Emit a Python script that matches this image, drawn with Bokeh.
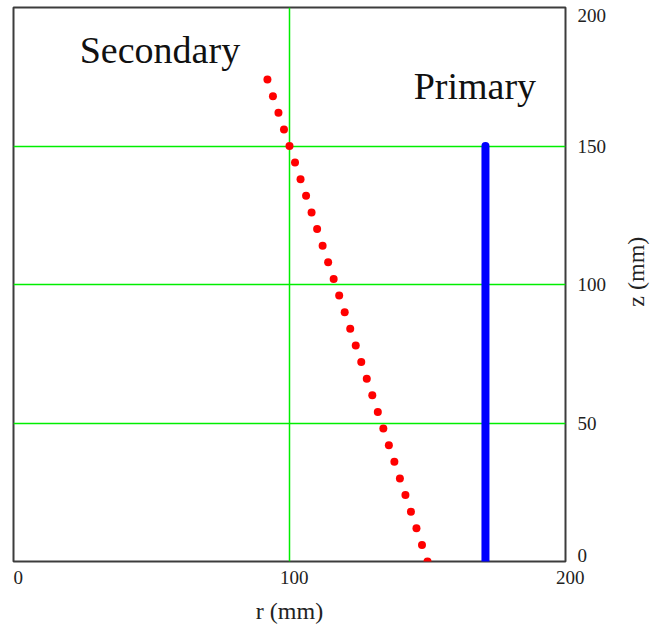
import math
from bokeh.plotting import figure
from bokeh.models import Range1d, LinearAxis, FixedTicker, Label
from bokeh.embed import file_html
from bokeh.resources import INLINE

# Secondary winding: radius (mm) against height (mm)
secondary_z = [0, 6, 12, 18, 24, 30, 36, 42, 48, 54, 60, 66, 72, 78, 84,
               90, 96, 102, 108, 114, 120, 126, 132, 138, 144, 150, 156, 162, 168, 174]
secondary_r = [150, 148, 146, 144, 142, 140, 138, 136, 134, 132, 130, 128, 126, 124, 122,
               120, 118, 116, 114, 112, 110, 108, 106, 104, 102, 100, 98, 96, 94, 92]

# Primary winding: a straight column at fixed radius
primary_r = [171, 171]
primary_z = [0, 150]

x_ticks = [0, 100, 200]
y_ticks = [0, 50, 100, 150, 200]
grid_x = [100]
grid_y = [50, 100, 150]

SERIF = "Liberation Serif"
NBSP = "\u00a0"
Z_TITLE_AT = 92  # height where the rotated z title starts

p = figure(
    frame_width=552, frame_height=554,
    x_range=Range1d(0, 200), y_range=Range1d(0, 200),
    output_backend="svg", toolbar_location=None,
    x_axis_location=None, y_axis_location=None,
    min_border_left=13, min_border_top=7,
    min_border_right=103, min_border_bottom=74,
)
p.background_fill_color = "white"
p.border_fill_color = "white"
p.outline_line_color = "#3c3c3c"
p.outline_line_width = 2

# bottom axis: labels sit a little to the right of their ticks
xaxis = LinearAxis(ticker=FixedTicker(ticks=x_ticks), axis_label="r (mm)")
xaxis.major_label_overrides = {t: NBSP * 2 + str(t) for t in x_ticks}

# right axis: end labels pulled inside the frame's span
yaxis = LinearAxis(ticker=FixedTicker(ticks=y_ticks))
yaxis.major_label_overrides = {200: "\n200", 0: "0\n\n\n"}
yaxis.major_label_text_line_height = 0.2

# second right axis that only carries the rotated z title
ztitle = LinearAxis(ticker=FixedTicker(ticks=[Z_TITLE_AT]))
ztitle.major_label_overrides = {Z_TITLE_AT: "z (mm)"}
ztitle.major_label_orientation = math.pi / 2

for ax in (xaxis, yaxis, ztitle):
    ax.axis_line_color = None
    ax.major_tick_line_color = None
    ax.minor_tick_line_color = None
    ax.major_tick_out = 0
    ax.major_tick_in = 0
    ax.major_label_text_font = SERIF
    ax.major_label_text_font_size = "19px"
    ax.major_label_text_color = "#222222"
    ax.axis_label_text_font = SERIF
    ax.axis_label_text_font_size = "24px"
    ax.axis_label_text_font_style = "normal"
    ax.axis_label_text_color = "#222222"
ztitle.major_label_text_font_size = "24px"
xaxis.major_label_standoff = 5
xaxis.axis_label_standoff = 7
yaxis.major_label_standoff = 12
ztitle.major_label_standoff = 27
p.add_layout(xaxis, "below")
p.add_layout(yaxis, "right")
p.add_layout(ztitle, "right")

# grid lines
p.xgrid.ticker = FixedTicker(ticks=grid_x)
p.ygrid.ticker = FixedTicker(ticks=grid_y)
for g in (p.xgrid, p.ygrid):
    g.grid_line_color = "#00ee00"
    g.grid_line_width = 1.5
    g.grid_line_alpha = 1.0

# series
p.line(primary_r, primary_z, line_color="#0000ff", line_width=8, line_cap="round")
p.scatter(secondary_r, secondary_z, size=8, fill_color="#ff0000", line_color=None)

# winding names
p.add_layout(Label(x=24.0, y=184.5, text="Secondary", text_align="left",
                   text_baseline="alphabetic", text_font=SERIF,
                   text_font_size="38px", text_color="#111111"))
p.add_layout(Label(x=145.0, y=171.7, text="Primary", text_align="left",
                   text_baseline="alphabetic", text_font=SERIF,
                   text_font_size="38px", text_color="#111111"))

open("out.html", "w").write(file_html(p, INLINE))
